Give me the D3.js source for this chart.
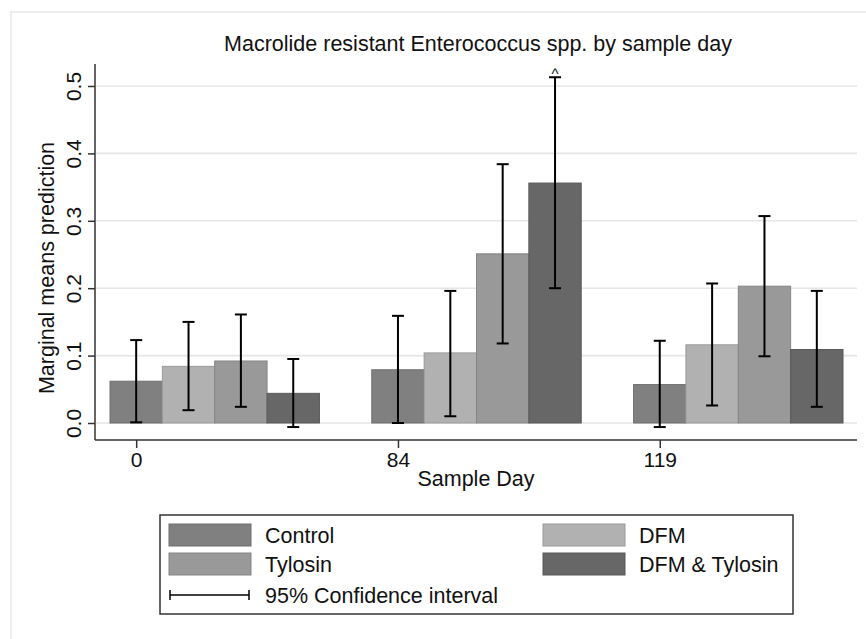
<!DOCTYPE html>
<html>
<head>
<meta charset="utf-8">
<script src="https://cdn.jsdelivr.net/npm/d3@7"></script>
<style>
  body { margin: 0; background: #fff; }
  text { font-family: "Liberation Sans", Arial, sans-serif; fill: #111; }
</style>
</head>
<body>
<script>
var width = 866, height = 639;

// sample days and treatments
var days = ["0", "84", "119"];
var groups = ["Control", "DFM", "Tylosin", "DFM & Tylosin"];
var colors = ["#808080", "#b1b1b1", "#999999", "#676767"];

// marginal means, one array per treatment (order = days)
var control = [0.062, 0.079, 0.057];
var dfm = [0.084, 0.104, 0.116];
var tylosin = [0.092, 0.251, 0.203];
var dfmTylosin = [0.044, 0.356, 0.109];

// 95% CI bounds
var lowControl = [0.001, 0.000, -0.006];
var highControl = [0.123, 0.159, 0.122];
var lowDfm = [0.019, 0.010, 0.026];
var highDfm = [0.150, 0.196, 0.207];
var lowTylosin = [0.024, 0.118, 0.099];
var highTylosin = [0.161, 0.384, 0.307];
var lowDfmTylosin = [-0.006, 0.200, 0.024];
var highDfmTylosin = [0.095, 0.513, 0.196];

var yTicks = [0, 0.1, 0.2, 0.3, 0.4, 0.5];

var means = [control, dfm, tylosin, dfmTylosin];
var lows = [lowControl, lowDfm, lowTylosin, lowDfmTylosin];
var highs = [highControl, highDfm, highTylosin, highDfmTylosin];

var rows = [];
days.forEach(function(day, i) {
    groups.forEach(function(g, j) {
        rows.push({day: day, group: g, value: means[j][i], low: lows[j][i], high: highs[j][i]});
    });
});

var svg = d3.select("body").append("svg")
    .attr("width", width)
    .attr("height", height);

// faint outer frame of the exported graph
svg.append("path")
    .attr("d", "M11,639V12H866")
    .attr("fill", "none")
    .attr("stroke", "#eeeeee")
    .attr("stroke-width", 2);

var x0 = d3.scaleBand().domain(days).range([110, 843]).paddingInner(0.2).paddingOuter(0);
var x1 = d3.scaleBand().domain(groups).range([0, x0.bandwidth()]);
var y = d3.scaleLinear().domain([0, 0.5]).range([423, 86]);
var color = d3.scaleOrdinal().domain(groups).range(colors);

var left = 95, right = 857, bottom = 440;

// gridlines
svg.append("g").selectAll("line")
    .data(yTicks)
    .enter().append("line")
    .attr("x1", left + 1).attr("x2", right)
    .attr("y1", function(d) { return y(d); })
    .attr("y2", function(d) { return y(d); })
    .attr("stroke", "#e6e6e6")
    .attr("stroke-width", 1.6);

// bars
svg.append("g").selectAll("rect")
    .data(rows)
    .enter().append("rect")
    .attr("x", function(d) { return x0(d.day) + x1(d.group); })
    .attr("y", function(d) { return y(d.value); })
    .attr("width", x1.bandwidth())
    .attr("height", function(d) { return y(0) - y(d.value); })
    .attr("fill", function(d) { return color(d.group); })
    .attr("stroke", function(d) { return d3.color(color(d.group)).darker(0.4); })
    .attr("stroke-width", 1);

// error bars
var cx = function(d) { return x0(d.day) + x1(d.group) + x1.bandwidth() / 2; };
var eb = svg.append("g").selectAll("g")
    .data(rows)
    .enter().append("g")
    .attr("stroke", "#000")
    .attr("stroke-width", 2);
eb.append("line")
    .attr("x1", cx).attr("x2", cx)
    .attr("y1", function(d) { return y(d.low); })
    .attr("y2", function(d) { return y(d.high); });
eb.append("line")
    .attr("x1", function(d) { return cx(d) - 6; })
    .attr("x2", function(d) { return cx(d) + 6; })
    .attr("y1", function(d) { return y(d.low); })
    .attr("y2", function(d) { return y(d.low); });
eb.append("line")
    .attr("x1", function(d) { return cx(d) - 6; })
    .attr("x2", function(d) { return cx(d) + 6; })
    .attr("y1", function(d) { return y(d.high); })
    .attr("y2", function(d) { return y(d.high); });

// caret over the tallest interval
var tallest = rows.filter(function(d) { return d.day == "84" && d.group == "DFM & Tylosin"; })[0];
svg.append("text")
    .attr("x", cx(tallest))
    .attr("y", y(tallest.high) + 2)
    .attr("text-anchor", "middle")
    .style("font-size", "15px")
    .text("^");

// y axis
var yAxis = d3.axisLeft(y).tickValues(yTicks).tickFormat(d3.format(".1f")).tickSize(7).tickSizeOuter(0);
var gy = svg.append("g").attr("transform", "translate(" + left + ",0)").call(yAxis);
gy.select(".domain").remove();
gy.append("line").attr("x1", 0).attr("x2", 0).attr("y1", 64).attr("y2", bottom)
    .attr("stroke", "#333").attr("stroke-width", 1.5);
gy.selectAll(".tick line").attr("stroke", "#333").attr("stroke-width", 1.5);
gy.selectAll(".tick text")
    .attr("x", null).attr("dy", null)
    .attr("text-anchor", "middle")
    .attr("transform", "translate(-14,0) rotate(-90)")
    .style("font-size", "21px")
    .style("fill", "#111")
    .style("font-family", "Liberation Sans, Arial, sans-serif");

// x axis with ticks under the first bar of each day
var xTick = d3.scaleOrdinal().domain(days)
    .range(days.map(function(d) { return x0(d) + x1("Control") + x1.bandwidth() / 2; }));
var xAxis = d3.axisBottom(xTick).tickSize(8).tickSizeOuter(0);
var gx = svg.append("g").attr("transform", "translate(0," + bottom + ")").call(xAxis);
gx.select(".domain").remove();
gx.append("line").attr("x1", left).attr("x2", right).attr("y1", 0).attr("y2", 0)
    .attr("stroke", "#333").attr("stroke-width", 1.5);
gx.selectAll(".tick line").attr("stroke", "#333").attr("stroke-width", 1.5);
gx.selectAll(".tick text")
    .attr("y", 12)
    .attr("dy", "0.71em")
    .style("font-size", "21px")
    .style("fill", "#111")
    .style("font-family", "Liberation Sans, Arial, sans-serif");

// titles
svg.append("text")
    .attr("x", 478).attr("y", 51)
    .attr("text-anchor", "middle")
    .style("font-size", "21.5px")
    .text("Macrolide resistant Enterococcus spp. by sample day");

svg.append("text")
    .attr("x", 476).attr("y", 486)
    .attr("text-anchor", "middle")
    .style("font-size", "21.5px")
    .text("Sample Day");

svg.append("text")
    .attr("transform", "translate(54,268) rotate(-90)")
    .attr("text-anchor", "middle")
    .style("font-size", "21.5px")
    .text("Marginal means prediction");

// legend
var legend = svg.append("g");
legend.append("rect")
    .attr("x", 160).attr("y", 515)
    .attr("width", 633).attr("height", 99)
    .attr("fill", "#fff")
    .attr("stroke", "#333")
    .attr("stroke-width", 1.5);

var legendPos = [[169, 524], [543, 524], [169, 553], [543, 553]];
var items = legend.selectAll("g.item")
    .data(groups)
    .enter().append("g")
    .attr("class", "item")
    .attr("transform", function(d, i) { return "translate(" + legendPos[i][0] + "," + legendPos[i][1] + ")"; });
items.append("rect")
    .attr("width", 82).attr("height", 22)
    .attr("fill", function(d) { return color(d); })
    .attr("stroke", function(d) { return d3.color(color(d)).darker(0.4); });
items.append("text")
    .attr("x", 96).attr("y", 19)
    .style("font-size", "21.5px")
    .text(function(d) { return d; });

var ci = legend.append("g").attr("stroke", "#000").attr("stroke-width", 1.5);
ci.append("line").attr("x1", 170).attr("x2", 249).attr("y1", 595).attr("y2", 595);
ci.append("line").attr("x1", 170).attr("x2", 170).attr("y1", 590).attr("y2", 600);
ci.append("line").attr("x1", 249).attr("x2", 249).attr("y1", 590).attr("y2", 600);
legend.append("text")
    .attr("x", 265).attr("y", 603)
    .style("font-size", "21.5px")
    .text("95% Confidence interval");
</script>
</body>
</html>
